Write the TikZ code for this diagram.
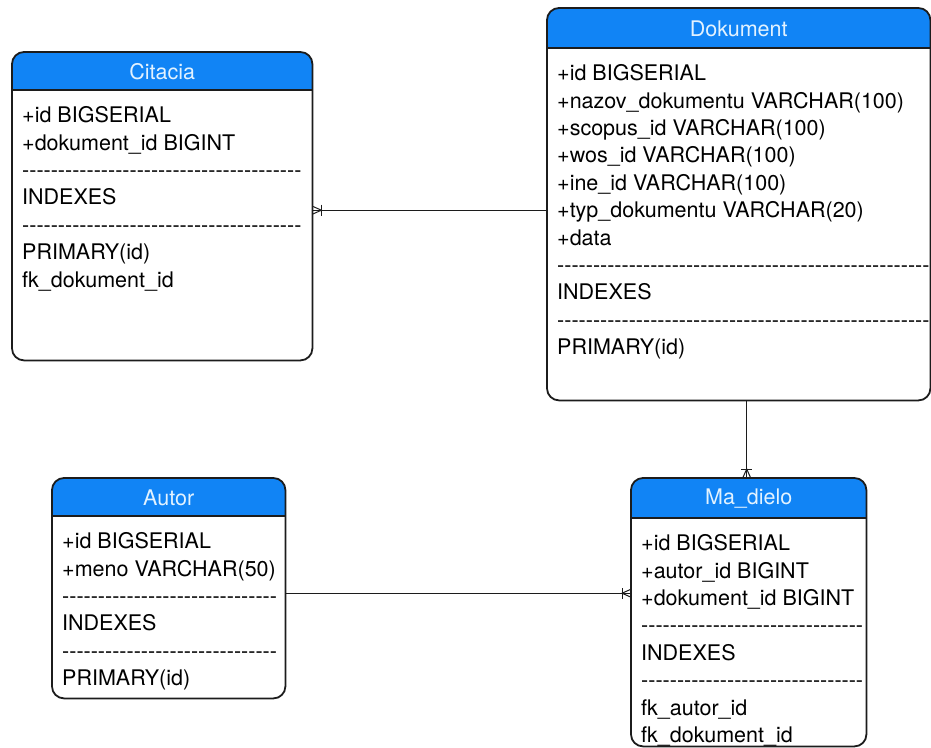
\documentclass[tikz,border=0pt]{standalone}
\usepackage{fontspec}
\newfontfamily\erfont{TeX Gyre Heros}
\usetikzlibrary{calc,positioning}
\definecolor{blue}{RGB}{17,132,245}
\definecolor{paleblue}{RGB}{226,242,255}
\definecolor{ink}{RGB}{28,28,28}
\newcommand\dashrow[1]{\foreach\k in {1,...,#1}{-}}
\tikzset{
  tablebox/.style={inner sep=0pt,anchor=north west},
  frame/.style={draw=ink,line width=1.8pt,rounded corners=12pt},
  rule/.style={draw=ink,line width=1.8pt},
  title/.style={text=paleblue,inner sep=0pt},
  rows/.style={align=left,anchor=north west,inner sep=0pt},
  rel/.style={draw=ink,line width=1pt},
  manyfoot/.pic={\draw[rel] (0pt,4pt) -- (9pt,0pt) -- (0pt,-4pt);
                 \draw[rel] (9pt,5.5pt) -- (9pt,-5.5pt);}
}

\begin{document}
\begin{tikzpicture}[x=1pt,y=-1pt,every node/.style={font=\erfont\fontsize{21.5}{27.4}\selectfont}]
\useasboundingbox (0,0) rectangle (931,747);
% tables
\node[tablebox,minimum width=300pt,minimum height=308pt] (cit) at (12,52) {};
\node[tablebox,minimum width=383pt,minimum height=392pt] (dok) at (547,8) {};
\node[tablebox,minimum width=233pt,minimum height=220pt] (aut) at (52,478) {};
\node[tablebox,minimum width=235pt,minimum height=268pt] (mad) at (631,478) {};
% headers
\foreach \t/\h/\name in {cit/38/Citacia,dok/40/Dokument,aut/38/Autor,mad/40/Ma\_dielo} {
  \begin{scope}
    \clip[rounded corners=12pt] (\t.north west) rectangle (\t.south east);
    \fill[blue] (\t.north west) rectangle ($(\t.north east)+(0,\h)$);
  \end{scope}
  \draw[frame] (\t.north west) rectangle (\t.south east);
  \draw[rule] ($(\t.north west)+(0,\h)$) -- ($(\t.north east)+(0,\h)$);
  \node[title] (\t-title) at ($(\t.north)+(0,\h/2+1)$) {\name};
}
% columns and indexes
\node[rows] (cit-rows) at ($(cit.north west)+(10,54.4)$)
  {+id BIGSERIAL\\+dokument\_id BIGINT\\\dashrow{39}\\INDEXES\\\dashrow{39}\\PRIMARY(id)\\fk\_dokument\_id};
\node[rows] (dok-rows) at ($(dok.north west)+(10,56.4)$)
  {+id BIGSERIAL\\+nazov\_dokumentu VARCHAR(100)\\+scopus\_id VARCHAR(100)\\+wos\_id VARCHAR(100)\\
   +ine\_id VARCHAR(100)\\+typ\_dokumentu VARCHAR(20)\\+data\\\dashrow{52}\\INDEXES\\\dashrow{52}\\PRIMARY(id)};
\node[rows] (aut-rows) at ($(aut.north west)+(10,54.4)$)
  {+id BIGSERIAL\\+meno VARCHAR(50)\\\dashrow{30}\\INDEXES\\\dashrow{30}\\PRIMARY(id)};
\node[rows] (mad-rows) at ($(mad.north west)+(10,56.4)$)
  {+id BIGSERIAL\\+autor\_id BIGINT\\+dokument\_id BIGINT\\\dashrow{31}\\INDEXES\\\dashrow{31}\\fk\_autor\_id\\fk\_dokument\_id};
% relations
\coordinate (c1) at ($(cit.east)+(0,4)$);
\coordinate (c2) at ($(aut.east)+(0,5)$);
\coordinate (c3) at ($(mad.north)+(-2,0)$);
\draw[rel] (dok.west |- c1) -- (c1);
\draw[rel] (c2) -- (c2 -| mad.west);
\draw[rel] (c3 |- dok.south) -- (c3);
\pic at (c1) {manyfoot};
\pic[rotate=180] at (c2 -| mad.west) {manyfoot};
\pic[rotate=90] at (c3) {manyfoot};
\end{tikzpicture}
\end{document}
